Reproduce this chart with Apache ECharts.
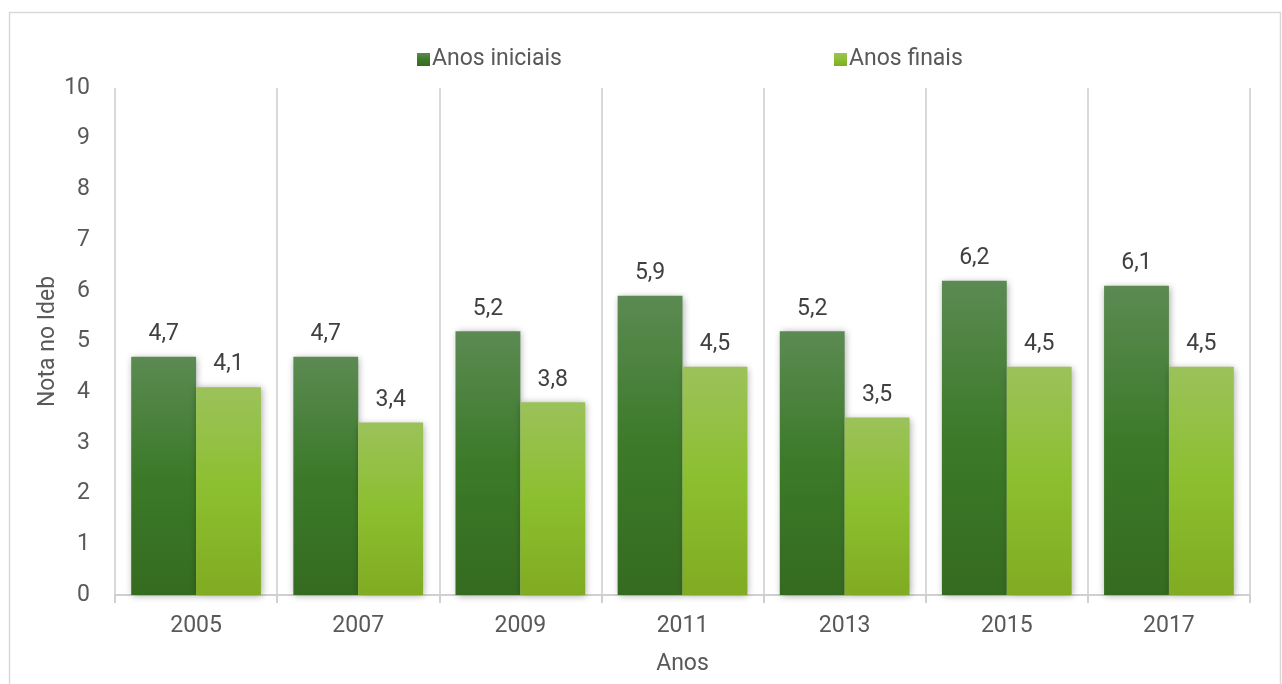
<!DOCTYPE html>
<html>
<head>
<meta charset="utf-8">
<script src="https://cdn.jsdelivr.net/npm/echarts@6/dist/echarts.min.js"></script>
<style>
  html, body { margin: 0; padding: 0; background: #ffffff; }
  #chart { width: 1282px; height: 684px; }
</style>
</head>
<body>
<div id="chart"></div>
<script>
const anos = ['2005', '2007', '2009', '2011', '2013', '2015', '2017']
const iniciais = [4.7, 4.7, 5.2, 5.9, 5.2, 6.2, 6.1]
const finais = [4.1, 3.4, 3.8, 4.5, 3.5, 4.5, 4.5]
const yTicks = [0, 1, 2, 3, 4, 5, 6, 7, 8, 9, 10]

const font = 'Roboto, "Open Sans", sans-serif'
const darkGrad = new echarts.graphic.LinearGradient(0, 0, 0, 1, [
  { offset: 0, color: '#5b8a52' },
  { offset: 0.5, color: '#3c7a29' },
  { offset: 1, color: '#356b20' }
])
const lightGrad = new echarts.graphic.LinearGradient(0, 0, 0, 1, [
  { offset: 0, color: '#9bc25a' },
  { offset: 0.5, color: '#8cbf2f' },
  { offset: 1, color: '#80ab22' }
])

let chart = echarts.init(document.getElementById('chart'))

function labelFmt(p) {
  return String(p.value).replace('.', ',')
}

const legendText = { fontSize: 23, color: '#595959', fontFamily: font, padding: [0, 0, 0, -3] }

chart.setOption({
  animation: false,
  textStyle: { fontFamily: font },
  graphic: [{
    type: 'rect',
    shape: { x: 9.5, y: 12.5, width: 1271, height: 690 },
    style: { fill: 'none', stroke: '#d9d9d9', lineWidth: 1.5 },
    silent: true
  }],
  legend: [
    {
      top: 43, left: 412,
      itemWidth: 13, itemHeight: 13, icon: 'rect',
      textStyle: legendText,
      data: ['Anos iniciais']
    },
    {
      top: 43, left: 829,
      itemWidth: 13, itemHeight: 13, icon: 'rect',
      textStyle: legendText,
      data: ['Anos finais']
    }
  ],
  grid: { left: 115, right: 32, top: 88, bottom: 89 },
  xAxis: {
    type: 'category',
    data: anos,
    name: 'Anos',
    nameLocation: 'middle',
    nameGap: 58,
    nameTextStyle: { fontSize: 23, color: '#595959' },
    axisLine: { show: true, lineStyle: { color: '#d0d0d0', width: 2 } },
    axisTick: { show: true, length: 8, lineStyle: { color: '#d0d0d0', width: 2 } },
    axisLabel: { fontSize: 23, color: '#595959', margin: 20 },
    splitLine: { show: true, lineStyle: { color: '#d9d9d9', width: 2 } }
  },
  yAxis: {
    type: 'value',
    min: yTicks[0],
    max: yTicks[yTicks.length - 1],
    interval: 1,
    name: 'Nota no Ideb',
    nameLocation: 'middle',
    nameGap: 55,
    nameMoveOverlap: false,
    nameTextStyle: { fontSize: 23, color: '#595959' },
    axisLine: { show: false },
    axisTick: { show: false },
    axisLabel: { fontSize: 23, color: '#595959', margin: 25 },
    splitLine: { show: false }
  },
  series: [
    {
      name: 'Anos iniciais',
      type: 'bar',
      data: iniciais,
      barGap: '0%',
      barCategoryGap: '20%',
      itemStyle: {
        color: darkGrad,
        shadowColor: 'rgba(0,0,0,0.35)',
        shadowBlur: 7,
        shadowOffsetX: 1,
        shadowOffsetY: 1
      },
      label: {
        show: true,
        position: 'top',
        distance: 11,
        fontSize: 23,
        color: '#404040',
        formatter: labelFmt
      }
    },
    {
      name: 'Anos finais',
      type: 'bar',
      data: finais,
      itemStyle: {
        color: lightGrad,
        shadowColor: 'rgba(0,0,0,0.35)',
        shadowBlur: 7,
        shadowOffsetX: 1,
        shadowOffsetY: 1
      },
      label: {
        show: true,
        position: 'top',
        distance: 11,
        fontSize: 23,
        color: '#404040',
        formatter: labelFmt
      }
    }
  ]
})
</script>
</body>
</html>
